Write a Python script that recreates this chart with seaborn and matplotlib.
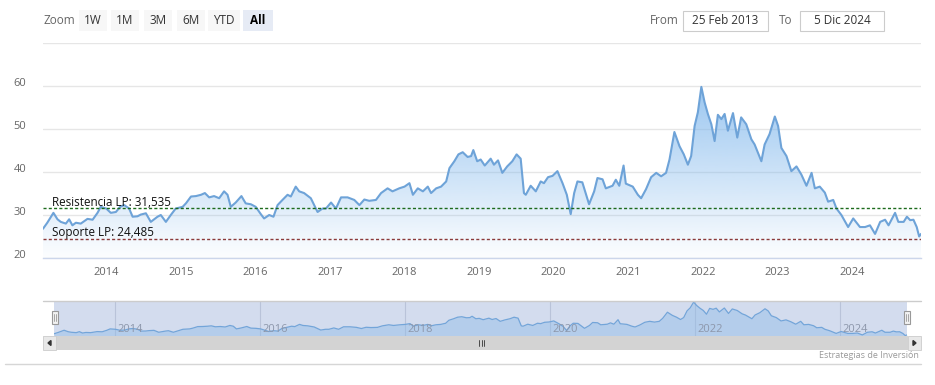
import numpy as np
import pandas as pd
import matplotlib
matplotlib.use("Agg")
import matplotlib.pyplot as plt
import matplotlib.dates as mdates
import matplotlib.transforms as mtransforms
from matplotlib.patches import Rectangle, Polygon
import seaborn as sns

# precio aproximado
dates = [
    "2013-02-25", "2013-03-18", "2013-04-17", "2013-05-07", "2013-05-23", "2013-06-17",
    "2013-07-03", "2013-07-19", "2013-08-05", "2013-08-29", "2013-10-01", "2013-10-26",
    "2013-11-19", "2013-12-05", "2014-01-01", "2014-01-23", "2014-02-17", "2014-03-10",
    "2014-03-30", "2014-04-23", "2014-05-10", "2014-06-03", "2014-06-19", "2014-07-14",
    "2014-08-07", "2014-09-09", "2014-09-25", "2014-10-20", "2014-11-13", "2014-12-07",
    "2015-01-10", "2015-01-26", "2015-02-20", "2015-03-16", "2015-04-10", "2015-04-29",
    "2015-05-20", "2015-06-13", "2015-07-08", "2015-08-01", "2015-08-18", "2015-09-03",
    "2015-09-27", "2015-10-25", "2015-11-15", "2015-12-10", "2016-01-03", "2016-01-28",
    "2016-02-13", "2016-03-09", "2016-03-30", "2016-04-19", "2016-05-13", "2016-06-07",
    "2016-06-23", "2016-07-17", "2016-08-03", "2016-08-27", "2016-09-29", "2016-11-01",
    "2016-11-25", "2016-12-12", "2017-01-06", "2017-01-30", "2017-02-24", "2017-03-28",
    "2017-04-30", "2017-05-25", "2017-06-18", "2017-07-12", "2017-08-14", "2017-09-08",
    "2017-10-10", "2017-11-03", "2017-12-06", "2018-01-01", "2018-01-25", "2018-02-11",
    "2018-03-07", "2018-04-01", "2018-04-25", "2018-05-11", "2018-06-05", "2018-06-29",
    "2018-07-24", "2018-08-09", "2018-09-02", "2018-09-22", "2018-10-13", "2018-11-06",
    "2018-11-23", "2018-12-04", "2018-12-23", "2019-01-09", "2019-01-29", "2019-02-27",
    "2019-03-15", "2019-04-04", "2019-04-25", "2019-05-19", "2019-06-13", "2019-07-04",
    "2019-07-24", "2019-08-09", "2019-08-18", "2019-09-11", "2019-10-06", "2019-10-30",
    "2019-11-15", "2019-12-05", "2019-12-27", "2020-01-20", "2020-02-14", "2020-03-06",
    "2020-03-25", "2020-04-11", "2020-04-27", "2020-05-21", "2020-06-23", "2020-07-18",
    "2020-08-03", "2020-08-28", "2020-09-13", "2020-10-16", "2020-11-01", "2020-11-18",
    "2020-12-09", "2020-12-20", "2021-01-23", "2021-02-17", "2021-03-05", "2021-03-29",
    "2021-04-23", "2021-05-18", "2021-06-11", "2021-07-05", "2021-07-22", "2021-08-15",
    "2021-09-09", "2021-09-30", "2021-10-20", "2021-11-05", "2021-11-22", "2021-12-08",
    "2021-12-25", "2022-01-10", "2022-01-26", "2022-02-12", "2022-02-28", "2022-03-16",
    "2022-04-02", "2022-04-18", "2022-05-04", "2022-05-29", "2022-06-19", "2022-07-08",
    "2022-08-02", "2022-08-27", "2022-09-12", "2022-10-15", "2022-10-31", "2022-11-24",
    "2022-12-20", "2023-01-05", "2023-01-21", "2023-02-15", "2023-03-11", "2023-04-05",
    "2023-04-29", "2023-05-24", "2023-06-18", "2023-07-04", "2023-07-28", "2023-08-22",
    "2023-09-07", "2023-10-02", "2023-10-18", "2023-11-11", "2023-12-14", "2024-01-08",
    "2024-02-10", "2024-03-06", "2024-03-30", "2024-04-24", "2024-05-19", "2024-06-12",
    "2024-06-29", "2024-07-31", "2024-08-16", "2024-09-11", "2024-09-27", "2024-10-13",
    "2024-10-29", "2024-11-14", "2024-11-26", "2024-12-05",
]
prices = [
    26.8, 28.2, 30.5, 29.0, 28.4, 28.0,
    29.0, 27.6, 28.2, 28.0, 29.1, 28.9,
    30.5, 31.9, 31.5, 30.5, 30.7, 31.9,
    32.3, 31.5, 29.6, 29.7, 30.1, 30.4,
    28.4, 29.6, 30.0, 28.4, 30.0, 31.5,
    31.9, 32.7, 34.3, 34.4, 34.7, 35.1,
    34.1, 34.4, 33.9, 35.5, 34.7, 31.9,
    32.9, 34.4, 32.7, 32.5, 31.9, 30.2,
    29.2, 30.0, 29.6, 32.3, 33.5, 34.7,
    34.3, 36.6, 35.5, 35.1, 33.9, 30.7,
    31.5, 31.5, 32.9, 31.5, 34.1, 34.1,
    33.5, 32.3, 33.6, 33.3, 33.5, 35.1,
    36.2, 35.5, 36.2, 36.6, 37.4, 34.7,
    36.2, 35.5, 36.6, 35.1, 36.2, 36.6,
    37.8, 40.9, 42.5, 44.1, 44.6, 43.5,
    43.7, 45.1, 42.5, 42.9, 41.5, 43.1,
    41.7, 42.7, 39.8, 41.3, 42.5, 44.1,
    43.1, 35.1, 34.7, 36.8, 35.5, 37.8,
    37.4, 38.8, 39.1, 40.2, 37.4, 34.7,
    30.2, 35.1, 37.8, 37.6, 32.5, 35.5,
    38.6, 38.3, 36.2, 36.8, 38.2, 36.8,
    41.5, 37.3, 36.6, 34.7, 33.9, 36.0,
    38.8, 39.8, 39.0, 39.8, 42.9, 49.3,
    46.0, 44.1, 41.7, 43.7, 50.7, 53.9,
    59.8, 56.2, 53.5, 51.1, 47.2, 53.3,
    52.3, 53.5, 49.6, 53.7, 48.0, 52.7,
    51.1, 47.6, 46.4, 42.5, 46.4, 48.8,
    52.9, 50.7, 45.6, 43.7, 40.2, 41.3,
    39.4, 36.8, 39.8, 36.2, 36.6, 35.2,
    33.1, 33.5, 31.5, 30.0, 27.2, 29.2,
    27.2, 27.2, 27.6, 25.6, 28.4, 28.9,
    27.6, 30.5, 28.4, 28.4, 29.6, 28.8,
    28.9, 27.2, 25.0, 25.6,
]
resistance = 31.535
support = 24.485
y_ticks = [20, 30, 40, 50, 60, 70]
zoom_buttons = ["1W", "1M", "3M", "6M", "YTD", "All"]
date_from = "25 Feb 2013"
date_to = "5 Dic 2024"
credits = "Estrategias de Inversión"

df = pd.DataFrame({"fecha": pd.to_datetime(dates), "precio": prices})

sns.set_theme(style="white")
plt.rcParams["font.family"] = ["Open Sans", "DejaVu Sans"]

W, H = 935, 385
fig = plt.figure(figsize=(W / 100, H / 100), dpi=100)
fig.patch.set_facecolor("white")


def box(l, t, r, b):  # pixel box -> figure fraction
    return [l / W, 1 - b / H, (r - l) / W, (b - t) / H]


x0, x1 = df.fecha.iloc[0], df.fecha.iloc[-1]
line_col = "#6ea3d8"
fill_rgb = matplotlib.colors.to_rgb("#7cb5ec")

# ---- main chart ----
ax = fig.add_axes(box(43, 43, 921, 258))
ax.set_xlim(x0, x1)
ax.set_ylim(y_ticks[0], y_ticks[-1])

xnum = mdates.date2num(df.fecha)
verts = np.column_stack([np.r_[xnum, xnum[::-1]],
                         np.r_[df.precio, np.full(len(xnum), y_ticks[0])]])
clip = Polygon(verts, closed=True, facecolor="none", edgecolor="none")
ax.add_patch(clip)
grad = np.zeros((256, 1, 4))
grad[..., :3] = fill_rgb
grad[..., 3] = np.linspace(0.95, 0.02, 256)[:, None]
im = ax.imshow(grad, extent=[xnum[0], xnum[-1], y_ticks[0], y_ticks[-1]],
               aspect="auto", origin="upper", zorder=1, interpolation="bilinear")
im.set_clip_path(clip)

sns.lineplot(data=df, x="fecha", y="precio", ax=ax, color=line_col, lw=1.5, zorder=3)

ax.axhline(resistance, color="#1d6b1d", lw=1, ls=(0, (2.2, 1.6)), zorder=4)
ax.axhline(support, color="#8b3a3a", lw=1, ls=(0, (2.2, 1.6)), zorder=4)
tr = mtransforms.blended_transform_factory(ax.transAxes, ax.transData)
ax.text(0.0103, resistance + 0.55, f"Resistencia LP: {resistance:.3f}".replace(".", ","),
        transform=tr, fontsize=8.4, color="#111111", va="baseline", ha="left", zorder=5)
ax.text(0.0103, support + 0.55, f"Soporte LP: {support:.3f}".replace(".", ","),
        transform=tr, fontsize=8.4, color="#111111", va="baseline", ha="left", zorder=5)

ax.set_yticks(y_ticks)
ax.set_yticklabels([str(v) if v != y_ticks[-1] else "" for v in y_ticks])
ax.yaxis.grid(True, color="#e6e6e6", lw=1)
ax.xaxis.grid(False)
ax.set_axisbelow(True)
ax.tick_params(axis="y", length=0, pad=12, labelcolor="#666666", labelsize=8)
for lab in ax.get_yticklabels():
    lab.set_transform(lab.get_transform() + mtransforms.ScaledTranslation(0, 3 / 72, fig.dpi_scale_trans))
ax.xaxis.set_major_locator(mdates.YearLocator())
ax.xaxis.set_major_formatter(mdates.DateFormatter("%Y"))
ax.tick_params(axis="x", length=0, pad=6.5, labelcolor="#666666", labelsize=8)
ax.set_xlabel("")
ax.set_ylabel("")
for s in ["top", "left", "right"]:
    ax.spines[s].set_visible(False)
ax.spines["bottom"].set_color("#ccd6eb")
ax.spines["bottom"].set_linewidth(1)

# ---- navigator ----
nav = fig.add_axes(box(54, 301, 907, 336))
nav.set_facecolor("#d3dcee")
nav.set_xlim(x0, x1)
nav.set_ylim(min(prices) - 0.5, max(prices) + 1.2)
nav.fill_between(df.fecha, df.precio, min(prices) - 0.5, color="#8fbbe8", alpha=0.45, lw=0, zorder=2)
sns.lineplot(data=df, x="fecha", y="precio", ax=nav, color="#73a5d9", lw=0.9, zorder=3)
nav_years = pd.date_range("2014-01-01", "2024-01-01", freq="2YS")
for yv in nav_years:
    nav.axvline(yv, color="#b9c3d9", lw=0.8, zorder=1)
    nav.text(yv + pd.Timedelta(days=12), 0.2, yv.strftime("%Y"),
             transform=mtransforms.blended_transform_factory(nav.transData, nav.transAxes),
             fontsize=8, color="#8d97ab", va="center", ha="left", zorder=4)
nav.set_xticks([])
nav.set_yticks([])
nav.set_xlabel("")
nav.set_ylabel("")
for s in nav.spines.values():
    s.set_visible(False)

# ---- overlay in pixel units (toolbar, scrollbar, handles) ----
ov = fig.add_axes([0, 0, 1, 1], facecolor="none")
ov.set_xlim(0, W)
ov.set_ylim(H, 0)
ov.axis("off")

# navigator frame + handles
ov.plot([43, 921], [301, 301], color="#cccccc", lw=1)
for hx in (52, 904):
    ov.add_patch(Rectangle((hx, 311), 6, 13, facecolor="#f2f2f2", edgecolor="#999999", lw=0.8))
    ov.plot([hx + 2.3, hx + 2.3], [314, 321], color="#999999", lw=0.6)
    ov.plot([hx + 3.7, hx + 3.7], [314, 321], color="#999999", lw=0.6)

# scrollbar
ov.add_patch(Rectangle((43, 336), 878, 14, facecolor="#f2f2f2", edgecolor="none"))
ov.add_patch(Rectangle((56, 336), 852, 14, facecolor="#d3d3d3", edgecolor="none"))
ov.add_patch(Rectangle((43, 336), 13, 14, facecolor="#e8e8e8", edgecolor="#cccccc", lw=0.6))
ov.add_patch(Rectangle((908, 336), 13, 14, facecolor="#e8e8e8", edgecolor="#cccccc", lw=0.6))
ov.add_patch(Polygon([[48, 343], [51, 340.5], [51, 345.5]], closed=True, color="#333333"))
ov.add_patch(Polygon([[916, 343], [913, 340.5], [913, 345.5]], closed=True, color="#333333"))
for gx in (479, 481.5, 484):
    ov.plot([gx, gx], [340, 346], color="#333333", lw=0.6)

ov.text(919, 356, credits, ha="right", va="center", fontsize=6.5, color="#999999")
ov.plot([5, 921], [364, 364], color="#d6d6d6", lw=1)

# range selector
ov.text(43, 21, "Zoom", ha="left", va="center", fontsize=8.5, color="#666666")
btn_x = [79, 111, 144, 177, 208, 243]
btn_w = [28, 28, 28, 28, 32, 30]
for lbl, bx, bw in zip(zoom_buttons, btn_x, btn_w):
    sel = lbl == "All"
    ov.add_patch(Rectangle((bx, 10), bw, 21, facecolor="#e6ebf5" if sel else "#f7f7f7",
                           edgecolor="none"))
    ov.text(bx + bw / 2, 21, lbl, ha="center", va="center", fontsize=8.5,
            color="#000000" if sel else "#333333", fontweight="bold" if sel else "normal")

ov.text(650, 21, "From", ha="left", va="center", fontsize=8.5, color="#666666")
ov.add_patch(Rectangle((683, 11), 85, 20, facecolor="white", edgecolor="#cccccc", lw=0.8))
ov.text(725.5, 21, date_from, ha="center", va="center", fontsize=8.5, color="#333333")
ov.text(779, 21, "To", ha="left", va="center", fontsize=8.5, color="#666666")
ov.add_patch(Rectangle((800, 11), 84, 20, facecolor="white", edgecolor="#cccccc", lw=0.8))
ov.text(842, 21, date_to, ha="center", va="center", fontsize=8.5, color="#333333")

fig.savefig("out.png", dpi=100, facecolor="white")
